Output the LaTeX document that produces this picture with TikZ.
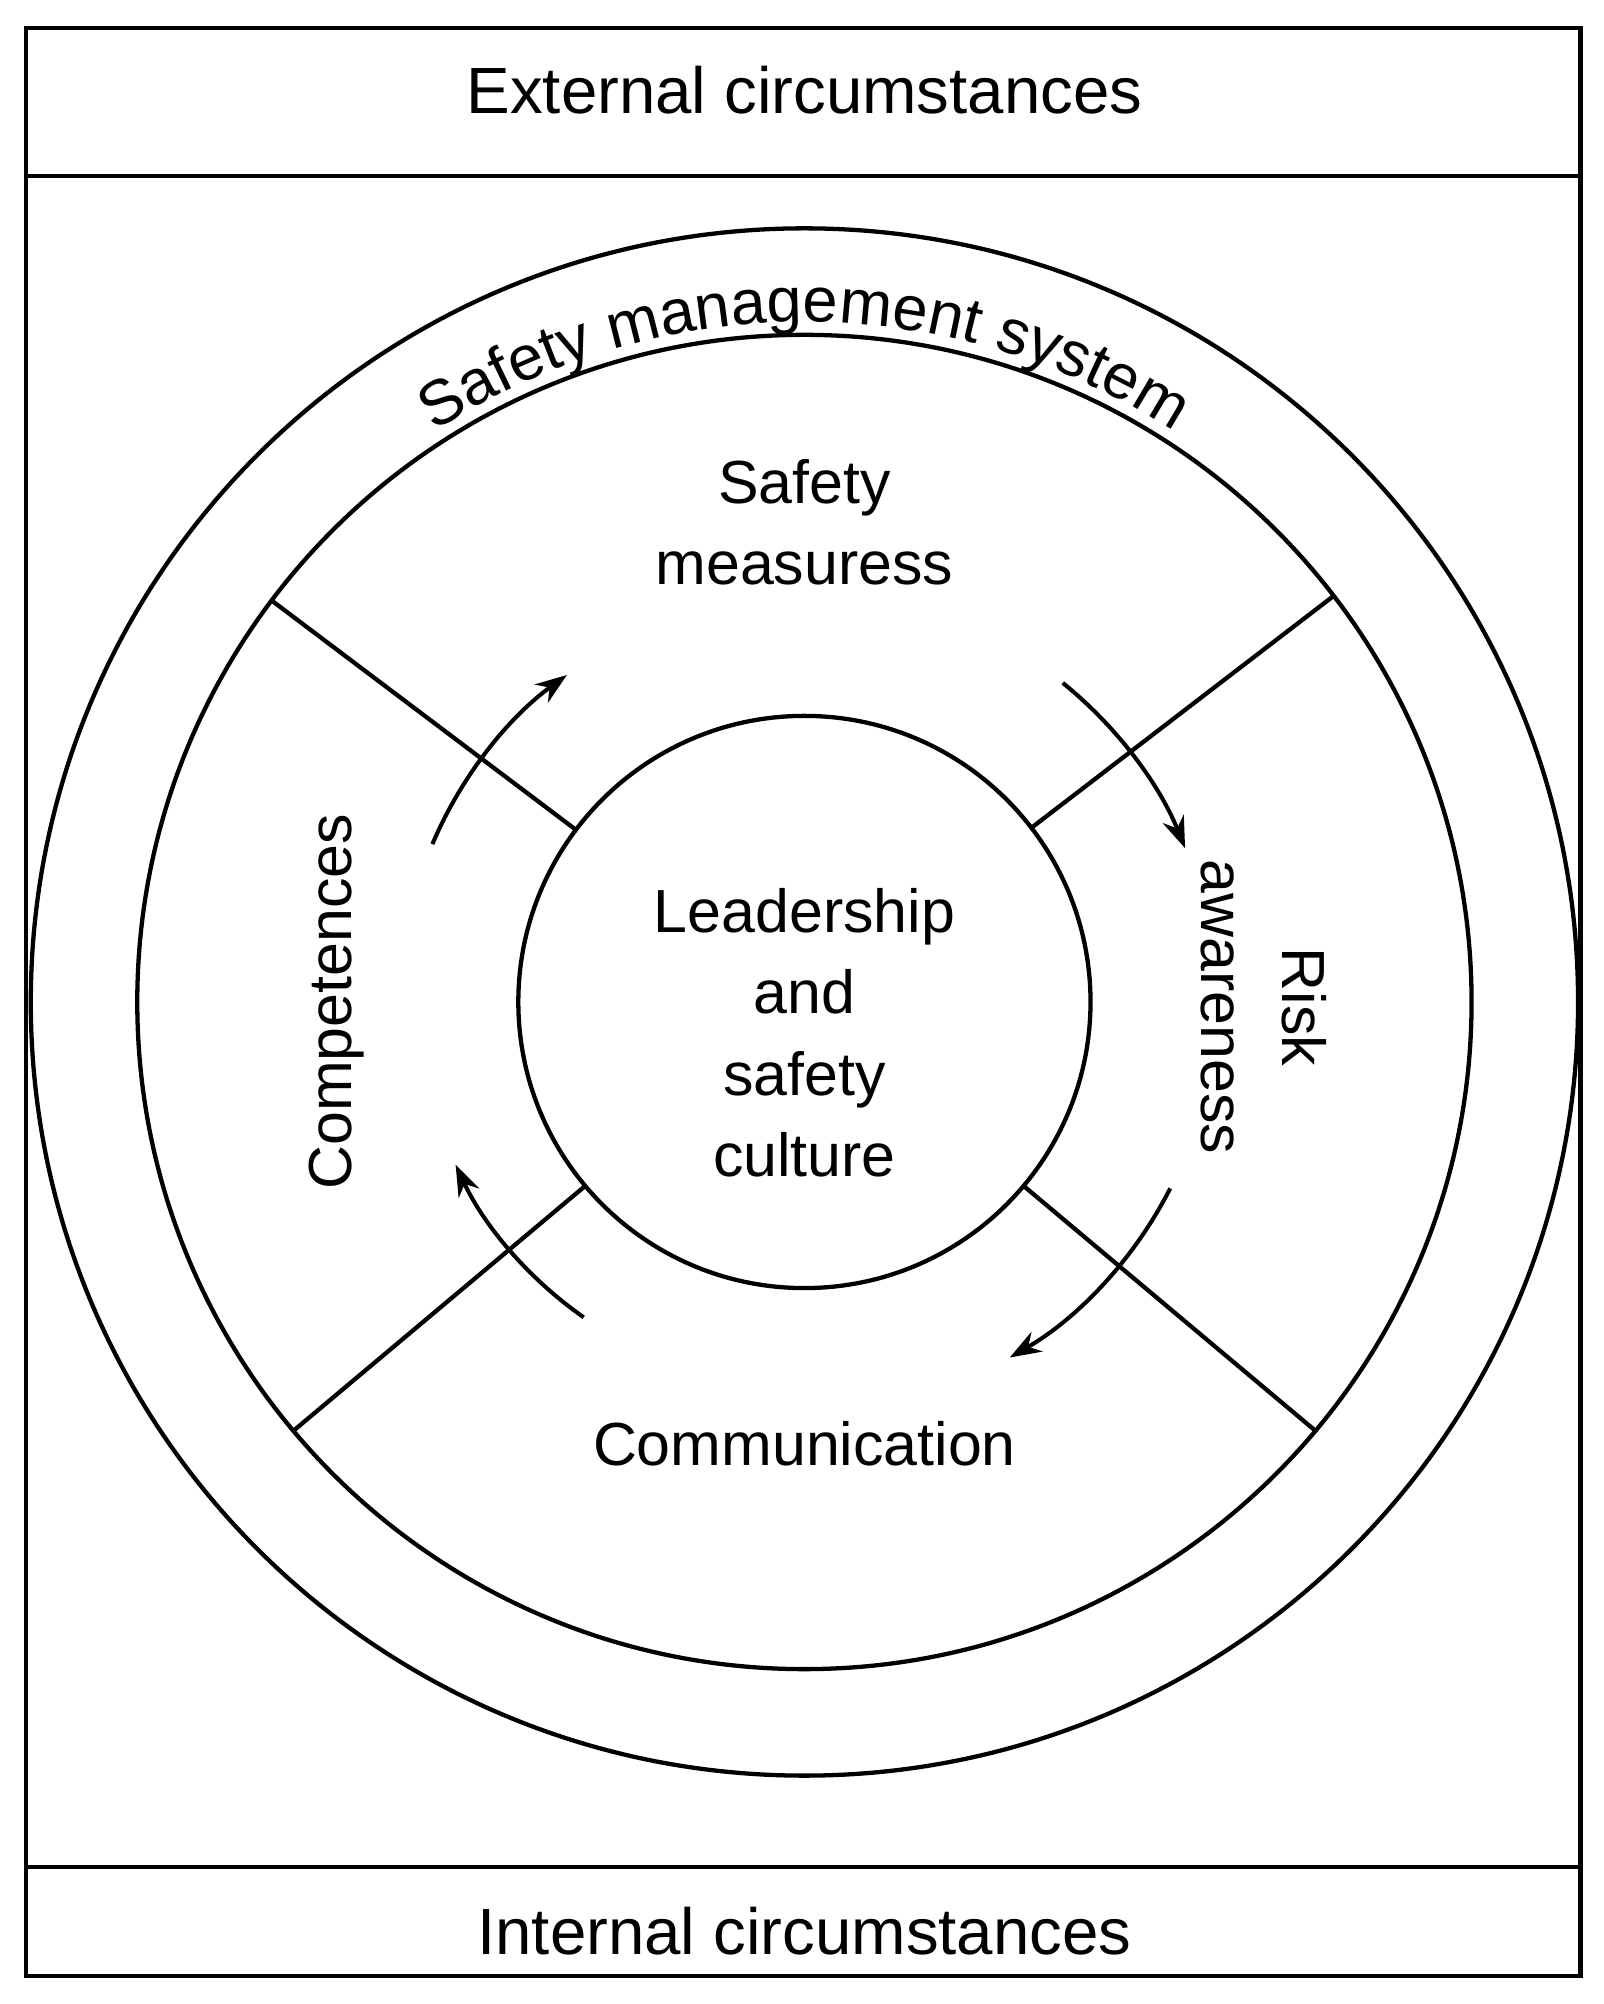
\documentclass[tikz,border=0pt]{standalone}
\usepackage{fontspec}
\setmainfont{Liberation Sans}
\usetikzlibrary{calc,decorations.text,arrows.meta}
\begin{document}
\begin{tikzpicture}[x=0.02cm,y=0.02cm,
  ln/.style={line width=1.9pt},
  lbl/.style={font=\fontsize{27}{36}\selectfont,align=center},
  cyc/.style={line width=1.8pt,-{Stealth[length=14pt,width=10pt]}}]
\useasboundingbox (0,0) rectangle (1250,1562);
\coordinate (c) at (627,781);
\draw[ln] (20,22) rectangle (1232,1540);
\draw[ln] (20,1425) -- (1232,1425);
\draw[ln] (20,107) -- (1232,107);
\node[lbl,font=\fontsize{29}{36}\selectfont] (ext) at (627,1492) {External circumstances};
\node[lbl,font=\fontsize{29}{36}\selectfont] (int) at (627,57) {Internal circumstances};
\draw[ln] (c) circle (603);
\draw[ln] (c) circle (520);
\draw[ln] (c) circle (223);
\foreach \a in {143,37.5,220,320}
  \draw[ln] ($(c)+(\a:223)$) -- ($(c)+(\a:520)$);
\path[decorate,decoration={text along path,text align=center,
  text={|\fontsize{28}{32}\selectfont|Safety management system}}]
  ($(c)+(160:530)$) arc (160:20:530);
\node[lbl] (sm) at (627,1155) {Safety\\measuress};
\node[lbl] (com) at (627,437) {Communication};
\node[lbl,rotate=90] (comp) at (262,781) {Competences};
\node[lbl,rotate=-90] (risk) at (985,777) {Risk\\awareness};
\node[lbl] (lead) at (627,757) {Leadership\\and\\safety\\culture};
\draw[cyc] ($(c)+(157:315)$) arc (157:126:315);
\draw[cyc] ($(c)+(51:320)$) arc (51:22:320);
\draw[cyc] ($(c)+(-27:320)$) arc (-27:-60:320);
\draw[cyc] ($(c)+(235:300)$) arc (235:205:300);
\end{tikzpicture}
\end{document}
